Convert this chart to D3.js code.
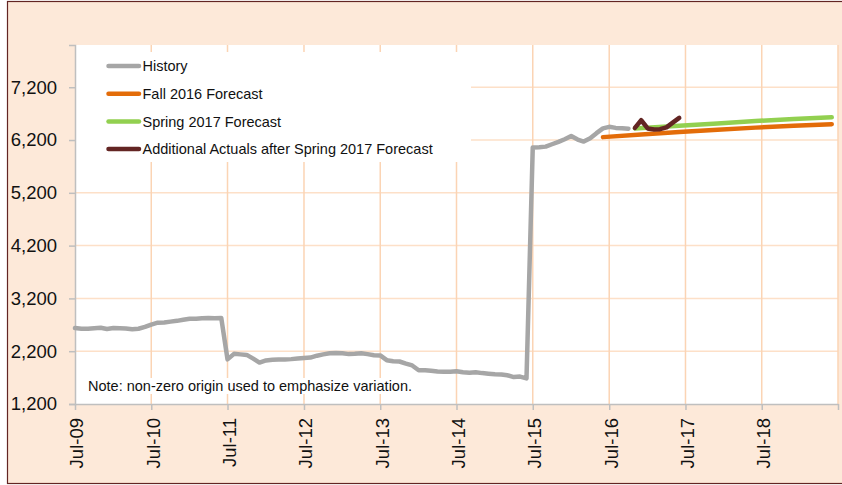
<!DOCTYPE html>
<html>
<head>
<meta charset="utf-8">
<script src="https://cdn.jsdelivr.net/npm/d3@7"></script>
<style>
  body { margin: 0; background: #fff; }
  svg { display: block; font-family: "Liberation Sans", Arial, sans-serif; }
</style>
</head>
<body>
<svg id="chart"></svg>
<script>
// monthly history, Jul-09 .. Oct-16
const historyStart = '2009-07';
const historyValues = [
  2640, 2625, 2625, 2635, 2645, 2620, 2640, 2635, 2630, 2615, 2625, 2660,
  2705, 2740, 2745, 2760, 2775, 2795, 2815, 2815, 2825, 2830, 2825, 2830,
  2045, 2150, 2140, 2130, 2060, 1985, 2025, 2040, 2045, 2045, 2050, 2060,
  2070, 2080, 2115, 2140, 2160, 2165, 2160, 2145, 2150, 2160, 2145, 2125,
  2120, 2030, 2010, 2005, 1965, 1930, 1840, 1840, 1830, 1815, 1810, 1810,
  1820, 1800, 1790, 1800, 1785, 1775, 1765, 1760, 1745, 1710, 1720, 1685,
  6060, 6065, 6075, 6120, 6165, 6215, 6275, 6210, 6170, 6235, 6330, 6420,
  6450, 6430, 6425, 6415
];

const fallDates = ['2016-06', '2016-12', '2017-06', '2017-12', '2018-06', '2018-12', '2019-06'];
const fallValues = [6255, 6305, 6350, 6395, 6435, 6470, 6500];

const springDates = ['2016-11', '2017-06', '2017-12', '2018-06', '2018-12', '2019-06'];
const springValues = [6420, 6470, 6515, 6560, 6600, 6630];

const actualDates = ['2016-11', '2016-12', '2017-01', '2017-02', '2017-03', '2017-04', '2017-05', '2017-06'];
const actualValues = [6430, 6575, 6420, 6400, 6405, 6440, 6530, 6620];

const yTicks = [1200, 2200, 3200, 4200, 5200, 6200, 7200];
const xTickLabels = ['Jul-09', 'Jul-10', 'Jul-11', 'Jul-12', 'Jul-13', 'Jul-14', 'Jul-15', 'Jul-16', 'Jul-17', 'Jul-18'];
const xEnd = '2019-07';

const seriesNames = ['History', 'Fall 2016 Forecast', 'Spring 2017 Forecast', 'Additional Actuals after Spring 2017 Forecast'];
const seriesColors = ['#a6a6a6', '#e36c09', '#92d050', '#632523'];

const width = 842;
const height = 485;
const plot = { left: 75, right: 838, top: 45, bottom: 404 };

const parseMonth = d3.timeParse('%Y-%m');
const parseLabel = d3.timeParse('%b-%y');

const svg = d3.select('#chart')
  .attr('width', width)
  .attr('height', height);

// outer chart area
svg.append('rect')
  .attr('x', 7.5).attr('y', 1.5)
  .attr('width', 845).attr('height', 482)
  .attr('fill', '#fde9d9')
  .attr('stroke', '#632523')
  .attr('stroke-width', 1.2);

svg.append('rect')
  .attr('x', plot.left).attr('y', plot.top)
  .attr('width', plot.right - plot.left).attr('height', plot.bottom - plot.top)
  .attr('fill', '#fff');

const x = d3.scaleTime()
  .domain([parseLabel(xTickLabels[0]), parseMonth(xEnd)])
  .range([plot.left, plot.right]);

const y = d3.scaleLinear()
  .domain([1200, 8000])
  .range([plot.bottom, plot.top]);

const xTicks = xTickLabels.map(parseLabel).concat([parseMonth(xEnd)]);

// gridlines
svg.append('g')
  .selectAll('line')
  .data(yTicks.slice(1))
  .enter()
  .append('line')
  .attr('x1', plot.left).attr('x2', plot.right)
  .attr('y1', d => y(d)).attr('y2', d => y(d))
  .attr('stroke', '#fde0c8')
  .attr('stroke-width', 1.5);

svg.append('g')
  .selectAll('line')
  .data(xTicks.slice(1))
  .enter()
  .append('line')
  .attr('x1', d => x(d)).attr('x2', d => x(d))
  .attr('y1', plot.top).attr('y2', plot.bottom)
  .attr('stroke', '#fbd4b4')
  .attr('stroke-width', 1.5);

// legend box and note box cover the gridlines
svg.append('rect')
  .attr('x', plot.left + 1).attr('y', 52)
  .attr('width', 395).attr('height', 110)
  .attr('fill', '#fff');

const note = svg.append('g');
const noteBg = note.append('rect').attr('fill', '#fff');
const noteText = note.append('text')
  .attr('x', 88)
  .attr('y', 391)
  .attr('font-size', '14.5px')
  .attr('fill', '#111')
  .text('Note: non-zero origin used to emphasize variation.');
const nb = noteText.node().getBBox();
noteBg.attr('x', nb.x - 2).attr('y', nb.y).attr('width', nb.width + 4).attr('height', nb.height);

// axes
const yAxis = d3.axisLeft(y)
  .tickValues(yTicks)
  .tickFormat(d3.format(','))
  .tickSize(6)
  .tickPadding(12);

svg.append('g')
  .attr('transform', `translate(${plot.left},0)`)
  .call(yAxis)
  .call(g => g.select('.domain').attr('stroke', '#bfbfbf').attr('stroke-width', 1.5))
  .call(g => g.selectAll('.tick line').attr('stroke', '#bfbfbf').attr('stroke-width', 1.5))
  .call(g => g.selectAll('.tick text')
    .attr('font-size', '18.5px')
    .attr('font-family', '"Liberation Sans", Arial, sans-serif')
    .attr('fill', '#111'));

const xAxis = d3.axisBottom(x)
  .tickValues(xTicks)
  .tickFormat((d, i) => xTickLabels[i] || '')
  .tickSize(6)
  .tickSizeOuter(0);

svg.append('g')
  .attr('transform', `translate(0,${plot.bottom})`)
  .call(xAxis)
  .call(g => g.select('.domain').attr('stroke', '#bfbfbf').attr('stroke-width', 1.5))
  .call(g => g.selectAll('.tick line').attr('stroke', '#bfbfbf').attr('stroke-width', 1.5))
  .call(g => g.selectAll('.tick text')
    .attr('font-size', '18.5px')
    .attr('font-family', '"Liberation Sans", Arial, sans-serif')
    .attr('fill', '#111')
    .attr('text-anchor', 'end')
    .attr('transform', 'translate(0,14) rotate(-90)')
    .attr('x', 0)
    .attr('y', 0)
    .attr('dy', '0.42em'));

// series
const line = d3.line()
  .x(d => x(d.date))
  .y(d => y(d.value));

const start = parseMonth(historyStart);
const series = [
  historyValues.map((v, i) => ({ date: d3.timeMonth.offset(start, i), value: v })),
  fallDates.map((d, i) => ({ date: parseMonth(d), value: fallValues[i] })),
  springDates.map((d, i) => ({ date: parseMonth(d), value: springValues[i] })),
  actualDates.map((d, i) => ({ date: parseMonth(d), value: actualValues[i] }))
];

svg.append('g')
  .selectAll('path')
  .data(series)
  .enter()
  .append('path')
  .attr('d', line)
  .attr('fill', 'none')
  .attr('stroke', (d, i) => seriesColors[i])
  .attr('stroke-width', 4.5)
  .attr('stroke-linejoin', 'round')
  .attr('stroke-linecap', 'round');

// legend
const legend = svg.append('g')
  .selectAll('g')
  .data(seriesNames)
  .enter()
  .append('g')
  .attr('transform', (d, i) => `translate(107,${66 + i * 27.7})`);

legend.append('line')
  .attr('x1', 1.5).attr('x2', 32)
  .attr('stroke', (d, i) => seriesColors[i])
  .attr('stroke-width', 4.5)
  .attr('stroke-linecap', 'round');

legend.append('text')
  .attr('x', 35.5)
  .attr('dy', '0.36em')
  .attr('font-size', '14.5px')
  .attr('fill', '#111')
  .text(d => d);
</script>
</body>
</html>
